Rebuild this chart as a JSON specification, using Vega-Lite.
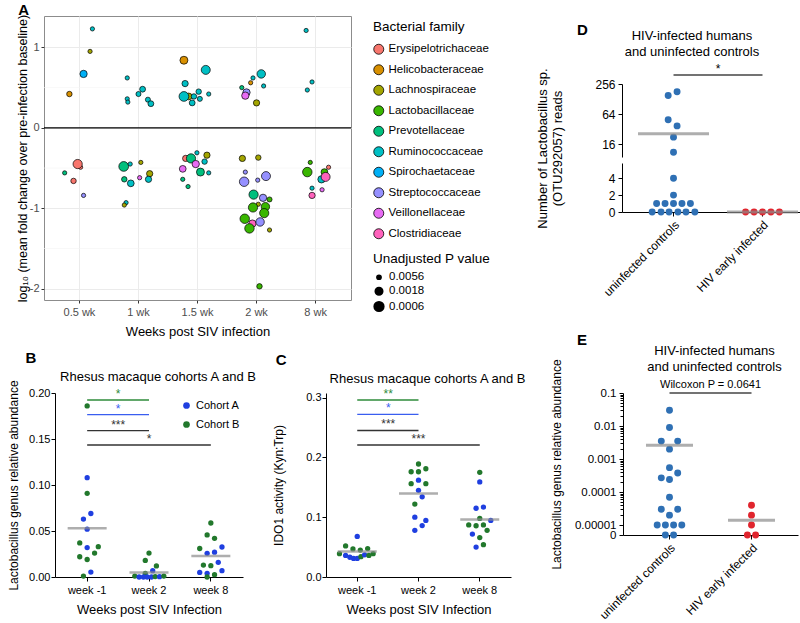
{
"$schema": "https://vega.github.io/schema/vega-lite/v6.json",
"padding": {"left": 6, "top": 2, "right": 0, "bottom": 0},
"config": {
 "font": "Liberation Sans",
 "view": {"stroke": null},
 "axis": {"labelColor": "black", "titleColor": "black", "domainColor": "black", "tickColor": "black", "labelFontSize": 11, "titleFontSize": 13, "titleFontWeight": "normal", "grid": false, "tickSize": 4, "labelPadding": 3, "labelOverlap": false},
 "title": {"fontWeight": "normal", "fontSize": 13, "color": "black"},
 "legend": {"labelFontSize": 11, "titleFontSize": 13, "titleFontWeight": "normal", "labelColor": "black", "titleColor": "black"}
},
"datasets": {
 "a": [
  {"w":"0.5 wk","j":0.22,"y":1.23,"f":"Ruminococcaceae","p":0.0056},
  {"w":"0.5 wk","j":0.18,"y":0.95,"f":"Lachnospiraceae","p":0.0056},
  {"w":"0.5 wk","j":0.07,"y":0.67,"f":"Spirochaetaceae","p":0.002},
  {"w":"0.5 wk","j":-0.17,"y":0.42,"f":"Helicobacteraceae","p":0.004},
  {"w":"1 wk","j":-0.19,"y":0.62,"f":"Ruminococcaceae","p":0.0056},
  {"w":"1 wk","j":-0.19,"y":0.36,"f":"Ruminococcaceae","p":0.0056},
  {"w":"1 wk","j":-0.18,"y":0.32,"f":"Ruminococcaceae","p":0.0056},
  {"w":"1 wk","j":0.0,"y":0.42,"f":"Ruminococcaceae","p":0.0045},
  {"w":"1 wk","j":0.07,"y":0.48,"f":"Ruminococcaceae","p":0.0035},
  {"w":"1 wk","j":0.16,"y":0.35,"f":"Ruminococcaceae","p":0.0045},
  {"w":"1 wk","j":0.21,"y":0.30,"f":"Ruminococcaceae","p":0.0035},
  {"w":"1.5 wk","j":-0.23,"y":0.84,"f":"Helicobacteraceae","p":0.0015},
  {"w":"1.5 wk","j":0.14,"y":0.72,"f":"Ruminococcaceae","p":0.0009},
  {"w":"1.5 wk","j":-0.21,"y":0.55,"f":"Ruminococcaceae","p":0.003},
  {"w":"1.5 wk","j":-0.15,"y":0.39,"f":"Lachnospiraceae","p":0.0025},
  {"w":"1.5 wk","j":-0.23,"y":0.39,"f":"Ruminococcaceae","p":0.0006},
  {"w":"1.5 wk","j":-0.06,"y":0.39,"f":"Ruminococcaceae","p":0.004},
  {"w":"1.5 wk","j":0.02,"y":0.45,"f":"Ruminococcaceae","p":0.004},
  {"w":"1.5 wk","j":0.04,"y":0.36,"f":"Ruminococcaceae","p":0.0045},
  {"w":"1.5 wk","j":-0.09,"y":0.31,"f":"Ruminococcaceae","p":0.0035},
  {"w":"1.5 wk","j":0.19,"y":0.42,"f":"Ruminococcaceae","p":0.0056},
  {"w":"2 wk","j":-0.25,"y":0.50,"f":"Prevotellaceae","p":0.0056},
  {"w":"2 wk","j":-0.10,"y":0.56,"f":"Helicobacteraceae","p":0.0056},
  {"w":"2 wk","j":-0.06,"y":0.62,"f":"Ruminococcaceae","p":0.0056},
  {"w":"2 wk","j":0.08,"y":0.67,"f":"Ruminococcaceae","p":0.0012},
  {"w":"2 wk","j":0.12,"y":0.52,"f":"Ruminococcaceae","p":0.0056},
  {"w":"2 wk","j":-0.17,"y":0.44,"f":"Streptococcaceae","p":0.002},
  {"w":"2 wk","j":-0.19,"y":0.40,"f":"Veillonellaceae","p":0.002},
  {"w":"2 wk","j":0.0,"y":0.31,"f":"Lachnospiraceae","p":0.003},
  {"w":"8 wk","j":-0.16,"y":1.21,"f":"Ruminococcaceae","p":0.0056},
  {"w":"8 wk","j":-0.06,"y":0.57,"f":"Ruminococcaceae","p":0.0056},
  {"w":"8 wk","j":-0.14,"y":0.47,"f":"Ruminococcaceae","p":0.0056},
  {"w":"0.5 wk","j":-0.25,"y":-0.56,"f":"Prevotellaceae","p":0.0056},
  {"w":"0.5 wk","j":0.02,"y":-0.49,"f":"Erysipelotrichaceae","p":0.0056},
  {"w":"0.5 wk","j":-0.03,"y":-0.45,"f":"Erysipelotrichaceae","p":0.0008},
  {"w":"0.5 wk","j":-0.10,"y":-0.66,"f":"Erysipelotrichaceae","p":0.004},
  {"w":"0.5 wk","j":0.07,"y":-0.84,"f":"Streptococcaceae","p":0.0056},
  {"w":"1 wk","j":-0.25,"y":-0.48,"f":"Prevotellaceae","p":0.0006},
  {"w":"1 wk","j":-0.14,"y":-0.45,"f":"Ruminococcaceae","p":0.0056},
  {"w":"1 wk","j":0.04,"y":-0.43,"f":"Lachnospiraceae","p":0.0056},
  {"w":"1 wk","j":0.19,"y":-0.57,"f":"Lachnospiraceae","p":0.003},
  {"w":"1 wk","j":-0.24,"y":-0.64,"f":"Prevotellaceae","p":0.004},
  {"w":"1 wk","j":-0.13,"y":-0.69,"f":"Ruminococcaceae","p":0.0025},
  {"w":"1 wk","j":0.02,"y":-0.62,"f":"Veillonellaceae","p":0.0056},
  {"w":"1 wk","j":0.17,"y":-0.64,"f":"Ruminococcaceae","p":0.003},
  {"w":"1 wk","j":-0.21,"y":-0.93,"f":"Ruminococcaceae","p":0.0056},
  {"w":"1 wk","j":-0.24,"y":-0.96,"f":"Lachnospiraceae","p":0.0056},
  {"w":"1.5 wk","j":-0.20,"y":-0.38,"f":"Erysipelotrichaceae","p":0.003},
  {"w":"1.5 wk","j":-0.11,"y":-0.38,"f":"Prevotellaceae","p":0.0008},
  {"w":"1.5 wk","j":-0.01,"y":-0.31,"f":"Ruminococcaceae","p":0.0056},
  {"w":"1.5 wk","j":0.16,"y":-0.34,"f":"Lachnospiraceae","p":0.003},
  {"w":"1.5 wk","j":0.12,"y":-0.42,"f":"Ruminococcaceae","p":0.004},
  {"w":"1.5 wk","j":-0.03,"y":-0.45,"f":"Veillonellaceae","p":0.002},
  {"w":"1.5 wk","j":-0.25,"y":-0.51,"f":"Veillonellaceae","p":0.0025},
  {"w":"1.5 wk","j":0.05,"y":-0.55,"f":"Prevotellaceae","p":0.0015},
  {"w":"1.5 wk","j":0.19,"y":-0.56,"f":"Ruminococcaceae","p":0.0056},
  {"w":"1.5 wk","j":-0.25,"y":-0.64,"f":"Prevotellaceae","p":0.0056},
  {"w":"1.5 wk","j":-0.16,"y":-0.73,"f":"Prevotellaceae","p":0.0056},
  {"w":"2 wk","j":-0.24,"y":-0.38,"f":"Lachnospiraceae","p":0.003},
  {"w":"2 wk","j":0.03,"y":-0.37,"f":"Lachnospiraceae","p":0.004},
  {"w":"2 wk","j":-0.19,"y":-0.55,"f":"Streptococcaceae","p":0.0056},
  {"w":"2 wk","j":-0.21,"y":-0.67,"f":"Streptococcaceae","p":0.0007},
  {"w":"2 wk","j":0.02,"y":-0.65,"f":"Streptococcaceae","p":0.0056},
  {"w":"2 wk","j":0.16,"y":-0.60,"f":"Streptococcaceae","p":0.0009},
  {"w":"2 wk","j":-0.05,"y":-0.83,"f":"Prevotellaceae","p":0.0008},
  {"w":"2 wk","j":0.11,"y":-0.87,"f":"Streptococcaceae","p":0.002},
  {"w":"2 wk","j":0.22,"y":-0.89,"f":"Lactobacillaceae","p":0.0045},
  {"w":"2 wk","j":0.03,"y":-0.95,"f":"Lachnospiraceae","p":0.0056},
  {"w":"2 wk","j":-0.06,"y":-0.99,"f":"Lactobacillaceae","p":0.0008},
  {"w":"2 wk","j":0.15,"y":-0.98,"f":"Lactobacillaceae","p":0.0012},
  {"w":"2 wk","j":0.13,"y":-1.06,"f":"Lactobacillaceae","p":0.0008},
  {"w":"2 wk","j":-0.07,"y":-1.19,"f":"Clostridiaceae","p":0.002},
  {"w":"2 wk","j":-0.20,"y":-1.13,"f":"Lactobacillaceae","p":0.0007},
  {"w":"2 wk","j":0.06,"y":-1.17,"f":"Streptococcaceae","p":0.0012},
  {"w":"2 wk","j":-0.12,"y":-1.25,"f":"Lactobacillaceae","p":0.0007},
  {"w":"2 wk","j":0.22,"y":-1.27,"f":"Lachnospiraceae","p":0.0056},
  {"w":"2 wk","j":0.05,"y":-1.97,"f":"Lactobacillaceae","p":0.004},
  {"w":"8 wk","j":-0.09,"y":-0.43,"f":"Lactobacillaceae","p":0.0056},
  {"w":"8 wk","j":-0.14,"y":-0.55,"f":"Lactobacillaceae","p":0.0007},
  {"w":"8 wk","j":0.22,"y":-0.49,"f":"Erysipelotrichaceae","p":0.0056},
  {"w":"8 wk","j":0.15,"y":-0.55,"f":"Lactobacillaceae","p":0.0025},
  {"w":"8 wk","j":0.10,"y":-0.64,"f":"Ruminococcaceae","p":0.002},
  {"w":"8 wk","j":0.17,"y":-0.61,"f":"Clostridiaceae","p":0.0009},
  {"w":"8 wk","j":-0.06,"y":-0.75,"f":"Ruminococcaceae","p":0.0056},
  {"w":"8 wk","j":0.11,"y":-0.77,"f":"Veillonellaceae","p":0.0056},
  {"w":"8 wk","j":-0.06,"y":-0.84,"f":"Clostridiaceae","p":0.003}
 ],
 "b": [
  {"wk":"week -1","c":"Cohort B","v":0.186,"j":0},
  {"wk":"week -1","c":"Cohort A","v":0.108,"j":0},
  {"wk":"week -1","c":"Cohort B","v":0.091,"j":0},
  {"wk":"week -1","c":"Cohort A","v":0.069,"j":0.06},
  {"wk":"week -1","c":"Cohort A","v":0.063,"j":-0.06},
  {"wk":"week -1","c":"Cohort A","v":0.052,"j":0},
  {"wk":"week -1","c":"Cohort B","v":0.037,"j":-0.12},
  {"wk":"week -1","c":"Cohort A","v":0.032,"j":0},
  {"wk":"week -1","c":"Cohort B","v":0.033,"j":0.18},
  {"wk":"week -1","c":"Cohort B","v":0.022,"j":-0.12},
  {"wk":"week -1","c":"Cohort B","v":0.026,"j":0.12},
  {"wk":"week -1","c":"Cohort B","v":0.019,"j":0},
  {"wk":"week -1","c":"Cohort A","v":0.0054,"j":0.06},
  {"wk":"week -1","c":"Cohort B","v":0.001,"j":-0.06},
  {"wk":"week 2","c":"Cohort B","v":0.026,"j":0},
  {"wk":"week 2","c":"Cohort B","v":0.018,"j":-0.06},
  {"wk":"week 2","c":"Cohort B","v":0.012,"j":0.12},
  {"wk":"week 2","c":"Cohort A","v":0.0069,"j":0.06},
  {"wk":"week 2","c":"Cohort B","v":0.004,"j":-0.06},
  {"wk":"week 2","c":"Cohort B","v":0.001,"j":-0.23},
  {"wk":"week 2","c":"Cohort A","v":0,"j":-0.16},
  {"wk":"week 2","c":"Cohort A","v":0,"j":-0.09},
  {"wk":"week 2","c":"Cohort A","v":0,"j":-0.03},
  {"wk":"week 2","c":"Cohort A","v":0,"j":0.04},
  {"wk":"week 2","c":"Cohort B","v":0.0005,"j":0.10},
  {"wk":"week 2","c":"Cohort A","v":0.0003,"j":0.17},
  {"wk":"week 2","c":"Cohort B","v":0.001,"j":0.24},
  {"wk":"week 8","c":"Cohort B","v":0.0587,"j":0},
  {"wk":"week 8","c":"Cohort B","v":0.0457,"j":-0.06},
  {"wk":"week 8","c":"Cohort B","v":0.042,"j":0.06},
  {"wk":"week 8","c":"Cohort B","v":0.031,"j":-0.18},
  {"wk":"week 8","c":"Cohort A","v":0.0326,"j":0.18},
  {"wk":"week 8","c":"Cohort A","v":0.0257,"j":-0.06},
  {"wk":"week 8","c":"Cohort A","v":0.027,"j":0.06},
  {"wk":"week 8","c":"Cohort B","v":0.013,"j":-0.12},
  {"wk":"week 8","c":"Cohort B","v":0.0123,"j":0},
  {"wk":"week 8","c":"Cohort A","v":0.016,"j":0.12},
  {"wk":"week 8","c":"Cohort A","v":0.005,"j":-0.18},
  {"wk":"week 8","c":"Cohort A","v":0.0069,"j":0.18},
  {"wk":"week 8","c":"Cohort A","v":0.004,"j":-0.06},
  {"wk":"week 8","c":"Cohort B","v":0.0025,"j":0.06},
  {"wk":"week 8","c":"Cohort B","v":0.0,"j":-0.06}
 ],
 "bm": [{"wk":"week -1","v":0.053},{"wk":"week 2","v":0.005},{"wk":"week 8","v":0.0228}],
 "c": [
  {"wk":"week -1","c":"Cohort A","v":0.0678,"j":0},
  {"wk":"week -1","c":"Cohort B","v":0.052,"j":-0.19},
  {"wk":"week -1","c":"Cohort B","v":0.047,"j":-0.07},
  {"wk":"week -1","c":"Cohort B","v":0.045,"j":0.05},
  {"wk":"week -1","c":"Cohort B","v":0.0476,"j":0.17},
  {"wk":"week -1","c":"Cohort B","v":0.039,"j":-0.29},
  {"wk":"week -1","c":"Cohort B","v":0.039,"j":0.26},
  {"wk":"week -1","c":"Cohort A","v":0.036,"j":-0.19},
  {"wk":"week -1","c":"Cohort A","v":0.033,"j":-0.12},
  {"wk":"week -1","c":"Cohort A","v":0.031,"j":-0.06},
  {"wk":"week -1","c":"Cohort A","v":0.031,"j":0},
  {"wk":"week -1","c":"Cohort B","v":0.034,"j":0.06},
  {"wk":"week -1","c":"Cohort A","v":0.037,"j":0.12},
  {"wk":"week -1","c":"Cohort B","v":0.036,"j":0.19},
  {"wk":"week 2","c":"Cohort B","v":0.189,"j":0},
  {"wk":"week 2","c":"Cohort B","v":0.176,"j":-0.12},
  {"wk":"week 2","c":"Cohort B","v":0.176,"j":0},
  {"wk":"week 2","c":"Cohort B","v":0.181,"j":0.12},
  {"wk":"week 2","c":"Cohort B","v":0.156,"j":-0.12},
  {"wk":"week 2","c":"Cohort A","v":0.162,"j":0},
  {"wk":"week 2","c":"Cohort B","v":0.156,"j":0.12},
  {"wk":"week 2","c":"Cohort A","v":0.145,"j":0},
  {"wk":"week 2","c":"Cohort A","v":0.134,"j":0.06},
  {"wk":"week 2","c":"Cohort B","v":0.122,"j":-0.06},
  {"wk":"week 2","c":"Cohort A","v":0.100,"j":-0.06},
  {"wk":"week 2","c":"Cohort A","v":0.0946,"j":0.12},
  {"wk":"week 2","c":"Cohort A","v":0.086,"j":0.06},
  {"wk":"week 2","c":"Cohort A","v":0.078,"j":-0.06},
  {"wk":"week 8","c":"Cohort B","v":0.175,"j":0},
  {"wk":"week 8","c":"Cohort A","v":0.159,"j":0},
  {"wk":"week 8","c":"Cohort A","v":0.115,"j":-0.06},
  {"wk":"week 8","c":"Cohort A","v":0.117,"j":0.06},
  {"wk":"week 8","c":"Cohort A","v":0.0946,"j":0.18},
  {"wk":"week 8","c":"Cohort B","v":0.098,"j":0},
  {"wk":"week 8","c":"Cohort B","v":0.087,"j":-0.18},
  {"wk":"week 8","c":"Cohort B","v":0.0857,"j":-0.06},
  {"wk":"week 8","c":"Cohort B","v":0.087,"j":0.06},
  {"wk":"week 8","c":"Cohort B","v":0.078,"j":0.12},
  {"wk":"week 8","c":"Cohort A","v":0.0717,"j":-0.12},
  {"wk":"week 8","c":"Cohort B","v":0.066,"j":0},
  {"wk":"week 8","c":"Cohort A","v":0.050,"j":-0.06},
  {"wk":"week 8","c":"Cohort B","v":0.054,"j":0.06}
 ],
 "cm": [{"wk":"week -1","v":0.0425},{"wk":"week 2","v":0.1395},{"wk":"week 8","v":0.0963}],
 "d": [
  {"g":"uninfected controls","v":0,"j":-0.24},
  {"g":"uninfected controls","v":0,"j":-0.14},
  {"g":"uninfected controls","v":0,"j":-0.05},
  {"g":"uninfected controls","v":0,"j":0.05},
  {"g":"uninfected controls","v":0,"j":0.14},
  {"g":"uninfected controls","v":0,"j":0.24},
  {"g":"uninfected controls","v":1,"j":-0.19},
  {"g":"uninfected controls","v":1,"j":-0.095},
  {"g":"uninfected controls","v":1,"j":0},
  {"g":"uninfected controls","v":1,"j":0.095},
  {"g":"uninfected controls","v":1,"j":0.19},
  {"g":"uninfected controls","v":2,"j":0},
  {"g":"uninfected controls","v":4,"j":0},
  {"g":"uninfected controls","v":11,"j":0},
  {"g":"uninfected controls","v":22,"j":0},
  {"g":"uninfected controls","v":37,"j":0.04},
  {"g":"uninfected controls","v":49,"j":-0.06},
  {"g":"uninfected controls","v":150,"j":-0.06},
  {"g":"uninfected controls","v":179,"j":0.04},
  {"g":"HIV early infected","v":0,"j":-0.19},
  {"g":"HIV early infected","v":0,"j":-0.095},
  {"g":"HIV early infected","v":0,"j":0},
  {"g":"HIV early infected","v":0,"j":0.095},
  {"g":"HIV early infected","v":0,"j":0.19}
 ],
 "dm": [{"g":"uninfected controls","v":25.6},{"g":"HIV early infected","v":0}],
 "e": [
  {"g":"uninfected controls","v":0.03,"j":0},
  {"g":"uninfected controls","v":0.009,"j":0},
  {"g":"uninfected controls","v":0.0035,"j":-0.1},
  {"g":"uninfected controls","v":0.0035,"j":0.1},
  {"g":"uninfected controls","v":0.002,"j":0},
  {"g":"uninfected controls","v":0.00055,"j":0},
  {"g":"uninfected controls","v":0.00038,"j":0.1},
  {"g":"uninfected controls","v":0.00027,"j":-0.1},
  {"g":"uninfected controls","v":0.00024,"j":0},
  {"g":"uninfected controls","v":0.00007,"j":0},
  {"g":"uninfected controls","v":0.00003,"j":-0.1},
  {"g":"uninfected controls","v":0.00003,"j":0.1},
  {"g":"uninfected controls","v":0.00002,"j":0},
  {"g":"uninfected controls","v":0.00001,"j":-0.15},
  {"g":"uninfected controls","v":0.00001,"j":-0.05},
  {"g":"uninfected controls","v":0.00001,"j":0.05},
  {"g":"uninfected controls","v":0.00001,"j":0.15},
  {"g":"uninfected controls","v":0,"j":-0.05},
  {"g":"uninfected controls","v":0,"j":0.05},
  {"g":"HIV early infected","v":0.00004,"j":0},
  {"g":"HIV early infected","v":0.00002,"j":0},
  {"g":"HIV early infected","v":0.00001,"j":0},
  {"g":"HIV early infected","v":0,"j":-0.05},
  {"g":"HIV early infected","v":0,"j":0.05}
 ],
 "em": [{"g":"uninfected controls","v":0.0026},{"g":"HIV early infected","v":0.000014}]
},
"spacing": 8,
"resolve": {"scale": {"color": "independent", "fill": "independent", "size": "independent", "xOffset": "independent"}, "legend": {"color": "independent", "fill": "independent", "size": "independent"}},
"hconcat": [
 {"spacing": 11,
  "resolve": {"scale": {"color": "independent", "fill": "independent", "size": "independent", "xOffset": "independent"}, "legend": {"color": "independent", "fill": "independent", "size": "independent"}},
  "vconcat": [
  {"spacing": 8,
   "resolve": {"scale": {"fill": "independent", "size": "independent", "xOffset": "independent"}, "legend": {"fill": "independent", "size": "independent"}},
   "hconcat": [
   {"width": 1, "height": 1, "data": {"values": []}, "mark": "point"},
   {
   "width": 307, "height": 284,
   "title": {"text": "A", "anchor": "start", "fontWeight": "bold", "fontSize": 15, "offset": -4, "dx": 2},
   "view": {"stroke": "#8c8c8c", "strokeWidth": 1},
   "layer": [
    {"data": {"values": [{}]}, "mark": {"type": "rule", "color": "#f3f3f3", "strokeWidth": 0.6}, "encoding": {"y": {"datum": -1.5}}},
    {"data": {"values": [{}]}, "mark": {"type": "rule", "color": "#f3f3f3", "strokeWidth": 0.6}, "encoding": {"y": {"datum": -0.5}}},
    {"data": {"values": [{}]}, "mark": {"type": "rule", "color": "#f3f3f3", "strokeWidth": 0.6}, "encoding": {"y": {"datum": 0.5}}},
    {"data": {"values": [{}]}, "mark": {"type": "rule", "color": "black", "strokeWidth": 1.2}, "encoding": {"y": {"datum": 0}}},
    {"data": {"name": "a"},
     "mark": {"type": "circle", "stroke": "black", "strokeWidth": 0.7, "opacity": 1},
     "encoding": {
      "x": {"field": "w", "type": "nominal", "scale": {"type": "band", "domain": ["0.5 wk","1 wk","1.5 wk","2 wk","8 wk"], "paddingInner": 0, "paddingOuter": 0.1},
            "axis": {"title": "Weeks post SIV infection", "labelAngle": 0, "grid": true, "gridColor": "#ebebeb", "domain": false, "tickColor": "#333333", "tickSize": 3, "labelColor": "#4d4d4d", "labelFontSize": 11, "titleFontSize": 13, "titlePadding": 8}},
      "xOffset": {"field": "j", "type": "quantitative", "scale": {"domain": [-0.5, 0.5]}},
      "y": {"field": "y", "type": "quantitative", "scale": {"domain": [-2.14, 1.39], "nice": false, "zero": false},
            "axis": {"values": [-2, -1, 0, 1], "grid": true, "gridColor": "#ebebeb", "domain": false, "tickColor": "#333333", "tickSize": 3, "labelColor": "#4d4d4d", "labelFontSize": 11, "labelPadding": 2, "labelExpr": "datum.value < 0 ? '-' + abs(datum.value) : '' + datum.value", "title": "log₁₀ (mean fold change over pre-infection baseline)", "titleFontSize": 12.5, "titlePadding": 0}},
      "fill": {"field": "f", "type": "nominal",
               "scale": {"domain": ["Erysipelotrichaceae","Helicobacteraceae","Lachnospiraceae","Lactobacillaceae","Prevotellaceae","Ruminococcaceae","Spirochaetaceae","Streptococcaceae","Veillonellaceae","Clostridiaceae"],
                         "range": ["#F8766D","#D89000","#A3A500","#39B600","#00BF7D","#00BFC4","#00B0F6","#9590FF","#E76BF3","#FF62BC"]},
               "legend": {"orient": "none", "legendX": 329, "legendY": 4, "title": "Bacterial family", "symbolType": "circle", "symbolSize": 100, "symbolStrokeColor": "black", "symbolStrokeWidth": 0.8, "rowPadding": 6.5, "titlePadding": 10, "labelFontSize": 11.5, "titleFontSize": 13.5}},
      "size": {"field": "p", "type": "quantitative", "scale": {"type": "log", "domain": [0.0006, 0.0056], "range": [95, 18]},
               "legend": {"orient": "none", "legendX": 329, "legendY": 236, "title": "Unadjusted P value", "values": [0.0056, 0.0018, 0.0006], "format": ".4f", "symbolType": "circle", "symbolFillColor": "black", "symbolStrokeColor": "black", "rowPadding": 0, "titlePadding": 6, "labelFontSize": 11.5, "titleFontSize": 13.5}}
     }}
   ]
  }]},
  {"spacing": 0,
   "resolve": {"scale": {"color": "independent", "xOffset": "independent"}, "legend": {"color": "independent"}},
   "hconcat": [
   {"width": 1, "height": 1, "data": {"values": []}, "mark": "point"},
   {"spacing": 15,
    "resolve": {"scale": {"color": "independent", "xOffset": "independent"}, "legend": {"color": "independent"}},
    "hconcat": [
    {"title": {"text": "B", "anchor": "start", "fontWeight": "bold", "fontSize": 15, "offset": 5, "dx": 18},
     "vconcat": [{
      "width": 188, "height": 184,
      "title": {"text": "Rhesus macaque cohorts A and B", "frame": "group", "dx": 9, "offset": -4},
      "layer": [
       {"data": {"name": "b"}, "mark": {"type": "circle", "size": 28, "opacity": 1},
        "encoding": {
         "x": {"field": "wk", "type": "nominal", "scale": {"type": "band", "domain": ["week -1","week 2","week 8"], "paddingInner": 0, "paddingOuter": 0.02}, "axis": {"labelAngle": 0, "title": "Weeks post SIV Infection", "titlePadding": 8}},
         "xOffset": {"field": "j", "type": "quantitative", "scale": {"domain": [-0.5, 0.5]}},
         "y": {"field": "v", "type": "quantitative", "scale": {"domain": [0, 0.2], "nice": false}, "axis": {"values": [0, 0.05, 0.1, 0.15, 0.2], "format": ".2f", "title": "Lactobacillus genus relative abundance", "titleFontSize": 12, "labelPadding": 1, "titlePadding": 8}},
         "color": {"field": "c", "type": "nominal", "scale": {"domain": ["Cohort A","Cohort B"], "range": ["#1f3fe0","#22782c"]},
                   "legend": {"orient": "none", "legendX": 126, "legendY": 7, "title": null, "symbolType": "circle", "symbolSize": 45, "labelFontSize": 11, "rowPadding": 7}}
        }},
       {"data": {"name": "bm"}, "mark": {"type": "tick", "size": 39, "thickness": 2.5, "color": "#8c8c8c"}, "encoding": {"x": {"field": "wk", "type": "nominal"}, "y": {"field": "v", "type": "quantitative"}}},
       {"data": {"values": [{}]}, "mark": {"type": "rule", "color": "#2e8b3a", "strokeWidth": 1.3}, "encoding": {"x": {"datum": "week -1"}, "x2": {"datum": "week 2"}, "y": {"datum": 0.1924}}},
       {"data": {"values": [{}]}, "mark": {"type": "text", "text": "*", "color": "#2e8b3a", "fontSize": 12, "baseline": "alphabetic", "dy": -2, "dx": 31}, "encoding": {"x": {"datum": "week -1"}, "y": {"datum": 0.1924}}},
       {"data": {"values": [{}]}, "mark": {"type": "rule", "color": "#3a5ef0", "strokeWidth": 1.3}, "encoding": {"x": {"datum": "week -1"}, "x2": {"datum": "week 2"}, "y": {"datum": 0.1764}}},
       {"data": {"values": [{}]}, "mark": {"type": "text", "text": "*", "color": "#3a5ef0", "fontSize": 12, "baseline": "alphabetic", "dy": -2, "dx": 31}, "encoding": {"x": {"datum": "week -1"}, "y": {"datum": 0.1764}}},
       {"data": {"values": [{}]}, "mark": {"type": "rule", "color": "#333333", "strokeWidth": 1.3}, "encoding": {"x": {"datum": "week -1"}, "x2": {"datum": "week 2"}, "y": {"datum": 0.159}}},
       {"data": {"values": [{}]}, "mark": {"type": "text", "text": "***", "color": "#333333", "fontSize": 12, "baseline": "alphabetic", "dy": -2, "dx": 31}, "encoding": {"x": {"datum": "week -1"}, "y": {"datum": 0.159}}},
       {"data": {"values": [{}]}, "mark": {"type": "rule", "color": "#333333", "strokeWidth": 1.3}, "encoding": {"x": {"datum": "week -1"}, "x2": {"datum": "week 8"}, "y": {"datum": 0.1435}}},
       {"data": {"values": [{}]}, "mark": {"type": "text", "text": "*", "color": "#333333", "fontSize": 12, "baseline": "alphabetic", "dy": -2}, "encoding": {"x": {"datum": "week 2"}, "y": {"datum": 0.1435}}}
      ]
     }]
    },
    {"title": {"text": "C", "anchor": "start", "fontWeight": "bold", "fontSize": 15, "offset": 5, "dx": 3},
     "vconcat": [{
      "width": 185, "height": 184,
      "title": {"text": "Rhesus macaque cohorts A and B", "frame": "group", "dx": 9, "offset": 2},
      "layer": [
       {"data": {"name": "c"}, "mark": {"type": "circle", "size": 28, "opacity": 1},
        "encoding": {
         "x": {"field": "wk", "type": "nominal", "scale": {"type": "band", "domain": ["week -1","week 2","week 8"], "paddingInner": 0, "paddingOuter": 0.01}, "axis": {"labelAngle": 0, "title": "Weeks post SIV Infection", "titlePadding": 8}},
         "xOffset": {"field": "j", "type": "quantitative", "scale": {"domain": [-0.5, 0.5]}},
         "y": {"field": "v", "type": "quantitative", "scale": {"domain": [0, 0.3077], "nice": false}, "axis": {"values": [0, 0.1, 0.2, 0.3], "format": ".1f", "title": "IDO1 activity (Kyn:Trp)", "titleFontSize": 12, "labelPadding": 1, "titlePadding": 20}},
         "color": {"field": "c", "type": "nominal", "scale": {"domain": ["Cohort A","Cohort B"], "range": ["#1f3fe0","#22782c"]}, "legend": null}
        }},
       {"data": {"name": "cm"}, "mark": {"type": "tick", "size": 39, "thickness": 2.5, "color": "#8c8c8c"}, "encoding": {"x": {"field": "wk", "type": "nominal"}, "y": {"field": "v", "type": "quantitative"}}},
       {"data": {"values": [{}]}, "mark": {"type": "rule", "color": "#2e8b3a", "strokeWidth": 1.3}, "encoding": {"x": {"datum": "week -1"}, "x2": {"datum": "week 2"}, "y": {"datum": 0.296}}},
       {"data": {"values": [{}]}, "mark": {"type": "text", "text": "**", "color": "#2e8b3a", "fontSize": 12, "baseline": "alphabetic", "dy": -2, "dx": 31}, "encoding": {"x": {"datum": "week -1"}, "y": {"datum": 0.296}}},
       {"data": {"values": [{}]}, "mark": {"type": "rule", "color": "#3a5ef0", "strokeWidth": 1.3}, "encoding": {"x": {"datum": "week -1"}, "x2": {"datum": "week 2"}, "y": {"datum": 0.272}}},
       {"data": {"values": [{}]}, "mark": {"type": "text", "text": "*", "color": "#3a5ef0", "fontSize": 12, "baseline": "alphabetic", "dy": -2, "dx": 31}, "encoding": {"x": {"datum": "week -1"}, "y": {"datum": 0.272}}},
       {"data": {"values": [{}]}, "mark": {"type": "rule", "color": "#333333", "strokeWidth": 1.3}, "encoding": {"x": {"datum": "week -1"}, "x2": {"datum": "week 2"}, "y": {"datum": 0.245}}},
       {"data": {"values": [{}]}, "mark": {"type": "text", "text": "***", "color": "#333333", "fontSize": 12, "baseline": "alphabetic", "dy": -2, "dx": 31}, "encoding": {"x": {"datum": "week -1"}, "y": {"datum": 0.245}}},
       {"data": {"values": [{}]}, "mark": {"type": "rule", "color": "#333333", "strokeWidth": 1.3}, "encoding": {"x": {"datum": "week -1"}, "x2": {"datum": "week 8"}, "y": {"datum": 0.2207}}},
       {"data": {"values": [{}]}, "mark": {"type": "text", "text": "***", "color": "#333333", "fontSize": 12, "baseline": "alphabetic", "dy": -2}, "encoding": {"x": {"datum": "week 2"}, "y": {"datum": 0.2207}}}
      ]
     }]
    }
   ]}
  ]}
 ]},
 {"spacing": 5,
  "resolve": {"scale": {"color": "independent", "xOffset": "independent"}},
  "vconcat": [
  {"width": 10, "height": 1, "data": {"values": []}, "mark": "point"},
  {"spacing": 33,
   "resolve": {"scale": {"color": "independent", "xOffset": "independent"}},
   "vconcat": [
   {"title": {"text": "D", "anchor": "start", "fontWeight": "bold", "fontSize": 15, "offset": -8, "dx": 42},
    "spacing": 0,
    "resolve": {"scale": {"color": "independent", "xOffset": "independent"}},
    "hconcat": [
     {"width": 1, "height": 1, "data": {"values": []}, "mark": "point"},
     {"width": 192, "height": 128,
      "title": {"text": ["HIV-infected humans", "and uninfected controls"], "frame": "group", "offset": 4, "lineHeight": 16, "dx": -26},
      "resolve": {"scale": {"y": "independent"}, "axis": {"y": "independent"}},
      "layer": [
       {"layer": [
         {"data": {"name": "d"}, "transform": [{"filter": "datum.v <= 5"}], "mark": {"type": "circle", "size": 48, "opacity": 1},
          "encoding": {
           "x": {"field": "g", "type": "nominal", "scale": {"type": "band", "domain": ["uninfected controls","HIV early infected"], "paddingInner": 0, "paddingOuter": 0.079}, "axis": {"title": null, "labelAngle": -45, "labelFontSize": 12}},
           "xOffset": {"field": "j", "type": "quantitative", "scale": {"domain": [-0.5, 0.5]}},
           "y": {"field": "v", "type": "quantitative", "scale": {"domain": [0, 5.8], "range": [128, 79], "nice": false}, "axis": {"orient": "left", "values": [0, 2, 4], "labelFontSize": 12, "title": null}},
           "color": {"field": "g", "type": "nominal", "scale": {"domain": ["uninfected controls","HIV early infected"], "range": ["#2f70b4","#e0252e"]}, "legend": null}
          }},
         {"data": {"name": "dm"}, "transform": [{"filter": "datum.v <= 5"}], "mark": {"type": "tick", "size": 71, "thickness": 3, "color": "#8c8c8c"}, "encoding": {"x": {"field": "g", "type": "nominal"}, "y": {"field": "v", "type": "quantitative"}}}
       ]},
       {"layer": [
         {"data": {"name": "d"}, "transform": [{"filter": "datum.v > 5"}], "mark": {"type": "circle", "size": 48, "opacity": 1},
          "encoding": {
           "x": {"field": "g", "type": "nominal"},
           "xOffset": {"field": "j", "type": "quantitative"},
           "y": {"field": "v", "type": "quantitative", "scale": {"type": "log", "base": 2, "domain": [8.8, 256], "range": [73, 0], "nice": false}, "axis": {"orient": "left", "values": [16, 64, 256], "labelFontSize": 12, "title": ["Number of Lactobacillus sp.", "(OTU292057) reads"], "titleFontSize": 13, "titleY": 64, "titlePadding": 30}},
           "color": {"field": "g", "type": "nominal"}
          }},
         {"data": {"name": "dm"}, "transform": [{"filter": "datum.v > 5"}], "mark": {"type": "tick", "size": 71, "thickness": 3, "color": "#8c8c8c"}, "encoding": {"x": {"field": "g", "type": "nominal"}, "y": {"field": "v", "type": "quantitative"}}},
         {"data": {"values": [{}]}, "mark": {"type": "rule", "color": "#444444", "strokeWidth": 1.5}, "encoding": {"x": {"datum": "uninfected controls"}, "x2": {"datum": "HIV early infected"}, "y": {"datum": 390}}},
         {"data": {"values": [{}]}, "mark": {"type": "text", "text": "*", "fontSize": 12, "baseline": "alphabetic", "dy": -2, "dx": 44.5}, "encoding": {"x": {"datum": "uninfected controls"}, "y": {"datum": 390}}}
       ]}
      ]}
    ]},
   {"title": {"text": "E", "anchor": "start", "fontWeight": "bold", "fontSize": 15, "offset": -3, "dx": 42},
    "spacing": 14,
    "resolve": {"scale": {"color": "independent", "xOffset": "independent"}},
    "hconcat": [
     {"width": 1, "height": 1, "data": {"values": []}, "mark": "point"},
     {
     "width": 175, "height": 142,
     "title": {"text": ["HIV-infected humans", "and uninfected controls"], "frame": "group", "offset": -15, "lineHeight": 16, "dx": 4},
     "resolve": {"axis": {"y": "independent"}},
     "layer": [
      {"data": {"name": "e"}, "mark": {"type": "circle", "size": 48, "opacity": 1},
       "encoding": {
        "x": {"field": "g", "type": "nominal", "scale": {"type": "band", "domain": ["uninfected controls","HIV early infected"], "paddingInner": 0, "paddingOuter": 0.067}, "axis": {"title": null, "labelAngle": -45, "labelFontSize": 12}},
        "xOffset": {"field": "j", "type": "quantitative", "scale": {"domain": [-0.5, 0.5]}},
        "y": {"field": "v", "type": "quantitative", "scale": {"type": "symlog", "constant": 1e-7, "domain": [0, 0.00001, 0.1], "range": [142, 132, 0], "nice": false, "zero": false}, "axis": {"values": [0, 0.00001, 0.0001, 0.001, 0.01, 0.1], "tickCount": 20, "labelOverlap": false, "labelExpr": "datum.value >= 0.1 ? '0.1' : datum.value >= 0.01 ? '0.01' : datum.value >= 0.001 ? '0.001' : datum.value >= 0.0001 ? '0.0001' : datum.value >= 0.00001 ? '0.00001' : '0'", "labelFontSize": 11.5, "title": "Lactobacillus genus relative abundance", "titleFontSize": 12, "titlePadding": 11}},
        "color": {"field": "g", "type": "nominal", "scale": {"domain": ["uninfected controls","HIV early infected"], "range": ["#2f70b4","#e0252e"]}, "legend": null}
       }},
      {"data": {"name": "em"}, "mark": {"type": "tick", "size": 47, "thickness": 3, "color": "#8c8c8c"},
       "encoding": {"x": {"field": "g", "type": "nominal"},
                    "y": {"field": "v", "type": "quantitative", "axis": {"orient": "left", "values": [0.00002,0.00003,0.00004,0.00005,0.00006,0.00007,0.00008,0.00009,0.0002,0.0003,0.0004,0.0005,0.0006,0.0007,0.0008,0.0009,0.002,0.003,0.004,0.005,0.006,0.007,0.008,0.009,0.02,0.03,0.04,0.05,0.06,0.07,0.08,0.09], "tickCount": 100, "labels": false, "domain": false, "tickSize": 3, "title": null, "grid": false}}}},
      {"data": {"values": [{}]}, "mark": {"type": "rule", "color": "#444444", "strokeWidth": 1.5}, "encoding": {"x": {"datum": "uninfected controls"}, "x2": {"datum": "HIV early infected"}, "y": {"datum": 0.1, "axis": null}}},
      {"data": {"values": [{}]}, "mark": {"type": "text", "text": "Wilcoxon P = 0.0641", "fontSize": 11, "baseline": "alphabetic", "dy": -5, "dx": 41}, "encoding": {"x": {"datum": "uninfected controls"}, "y": {"datum": 0.1, "axis": null}}}
     ]
    }]
   }
  ]}
 ]}
]
}
